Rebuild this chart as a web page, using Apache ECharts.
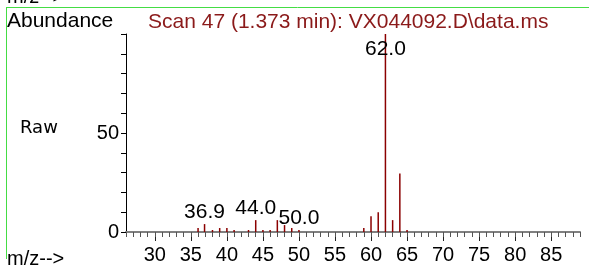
<!DOCTYPE html>
<html>
<head>
<meta charset="utf-8">
<script src="https://cdn.jsdelivr.net/npm/echarts@6/dist/echarts.min.js"></script>
<style>
  html, body { margin: 0; padding: 0; background: #fff; }
  #app { width: 589px; height: 269px; }
</style>
</head>
<body>
<div id="app"></div>
<script>
// spectrum peaks
var mzValues = [36, 36.9, 38, 39, 40, 41, 43, 44, 45, 46, 47, 48, 49, 50, 59, 60, 61, 62, 63, 64, 65];
var abundance = [2, 4, 1, 2, 2, 1, 1, 6, 1, 1, 6, 3.5, 2, 1, 2, 8, 10, 100, 6, 29.6, 1];
var labeledPeaks = [36.9, 44.0, 50.0, 62.0];
var xTickLabels = [30, 35, 40, 45, 50, 55, 60, 65, 70, 75, 80, 85];
var yTickLabels = [0, 50];

var peakColor = '#8b0000';
var font = '"Liberation Sans", Arial, sans-serif';

var barData = mzValues.map(function (mz, i) {
    var item = { value: [mz, abundance[i]] };
    if (labeledPeaks.indexOf(mz) >= 0) {
        item.label = {
            show: true,
            position: mz === 62 ? 'insideTop' : 'top',
            distance: mz === 62 ? 5 : 1,
            formatter: mz.toFixed(1),
            color: '#000',
            fontFamily: font,
            fontSize: 21
        };
    }
    return item;
});

var option = {
    animation: false,
    grid: { left: 126, right: 9, top: 34, bottom: 37 },
    xAxis: [{
        type: 'value',
        min: 26,
        max: 89,
        axisLine: { lineStyle: { color: '#808080', width: 2 } },
        axisTick: { customValues: xTickLabels, length: 9, lineStyle: { color: '#222', width: 1 } },
        axisLabel: { customValues: xTickLabels, margin: 13, color: '#000', fontFamily: font, fontSize: 20 },
        splitLine: { show: false }
    }, {
        type: 'value',
        min: 26,
        max: 89,
        interval: 1,
        position: 'bottom',
        axisLine: { show: false },
        axisTick: { length: 5, lineStyle: { color: '#555', width: 1 } },
        axisLabel: { show: false },
        splitLine: { show: false }
    }],
    yAxis: {
        type: 'value',
        min: 0,
        max: 100,
        interval: 10,
        axisLine: { show: true, lineStyle: { color: '#000', width: 1 } },
        axisTick: { show: true, length: 5, lineStyle: { color: '#000' } },
        axisLabel: {
            margin: 7,
            color: '#000',
            fontFamily: font,
            fontSize: 20,
            formatter: function (v) {
                return yTickLabels.indexOf(v) >= 0 ? String(v) : '';
            }
        },
        splitLine: { show: false }
    },
    graphic: [
        { type: 'line', shape: { x1: 6, y1: 7.5, x2: 589, y2: 7.5 }, style: { stroke: '#44dd44', lineWidth: 1 } },
        { type: 'line', shape: { x1: 6.5, y1: 7, x2: 6.5, y2: 259 }, style: { stroke: '#44dd44', lineWidth: 1 } },
        { type: 'text', left: 7, top: -13, style: { text: 'm/z-->', font: '20px ' + font, fill: '#000' } },
        { type: 'text', left: 7, top: 11, style: { text: 'Abundance', font: '21px ' + font, fill: '#000' } },
        { type: 'text', left: 148, top: 12, style: { text: 'Scan 47 (1.373 min): VX044092.D\\data.ms', font: '21px ' + font, fill: '#8b1a1a' } },
        { type: 'text', left: 20, top: 119, style: { text: 'Raw', font: '18px "DejaVu Sans", sans-serif', fill: '#000' } },
        { type: 'text', left: 7, top: 249, style: { text: 'm/z-->', font: '20px ' + font, fill: '#000' } }
    ],
    series: [{
        type: 'bar',
        xAxisIndex: 0,
        barWidth: 1.5,
        itemStyle: { color: peakColor },
        data: barData
    }]
};

var myChart = echarts.init(document.getElementById('app'), null, { renderer: 'canvas' });
myChart.setOption(option);
</script>
</body>
</html>
